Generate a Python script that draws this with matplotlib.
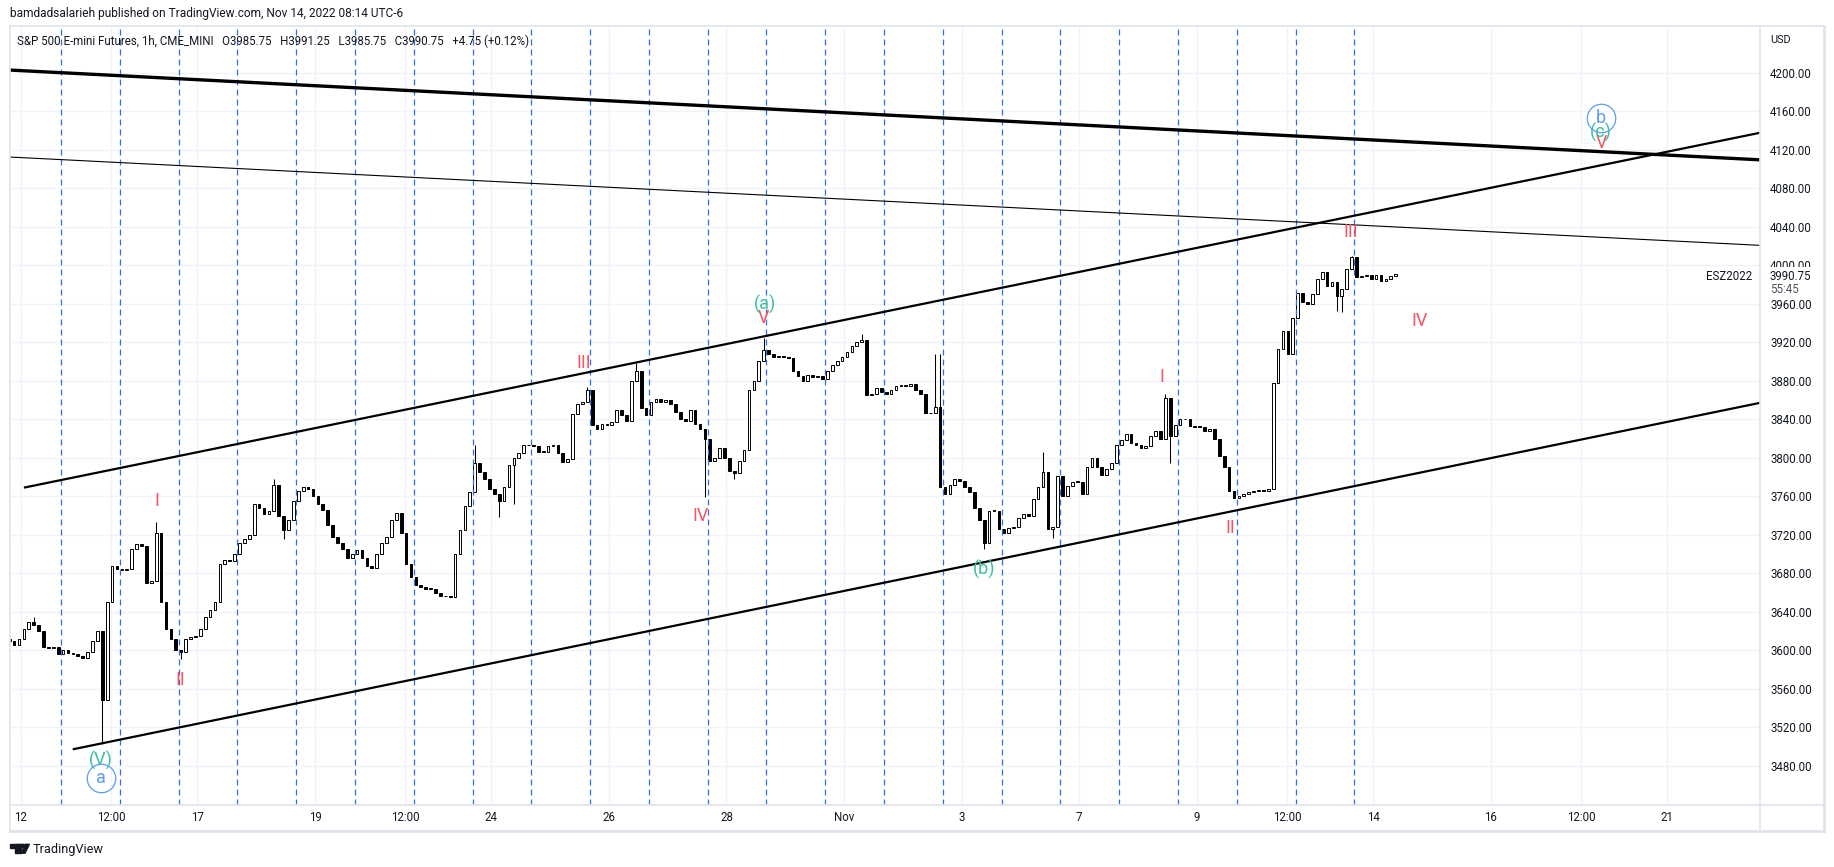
import matplotlib
matplotlib.use("Agg")
import matplotlib.pyplot as plt
from matplotlib.patches import Rectangle, Polygon, Circle
import numpy as np

plt.rcParams['font.family'] = ['Roboto', 'DejaVu Sans']
plt.rcParams['lines.scale_dashes'] = False

# ---------------- data (x in trading-day units, 0 = Oct 12) ----------------
bar_start = -0.2          # position of first 2-hour bar
bar_step = 1 / 12         # one bar = 2 hours
first_open = 3612

closes = [
    3610, 3606, 3612, 3622, 3630, 3626, 3620, 3604, 3602, 3604,
    3596, 3600, 3597, 3596, 3594, 3592, 3598, 3610, 3620, 3548,
    3650, 3688, 3685, 3683, 3685, 3705, 3710, 3708, 3670, 3672,
    3722, 3650, 3622, 3612, 3600, 3598, 3612, 3614, 3615, 3622,
    3635, 3642, 3650, 3690, 3694, 3693, 3700, 3712, 3716, 3720,
    3752, 3748, 3742, 3745, 3772, 3740, 3725, 3735, 3755, 3765,
    3770, 3768, 3760, 3752, 3746, 3730, 3718, 3712, 3705, 3696,
    3700, 3704, 3696, 3688, 3686, 3700, 3712, 3718, 3735, 3743,
    3722, 3690, 3676, 3668, 3666, 3664, 3664, 3660, 3656, 3656,
    3655, 3700, 3725, 3750, 3764, 3795, 3785, 3778, 3768, 3762,
    3755, 3770, 3792, 3800, 3805, 3813, 3813, 3812, 3806, 3806,
    3812, 3813, 3805, 3796, 3799, 3845, 3856, 3858, 3870, 3834,
    3830, 3835, 3834, 3837, 3850, 3844, 3838, 3880, 3890, 3852,
    3844, 3858, 3861, 3858, 3860, 3856, 3848, 3840, 3838, 3850,
    3835, 3830, 3820, 3797, 3800, 3810, 3800, 3786, 3784, 3797,
    3808, 3870, 3880, 3900, 3912, 3908, 3905, 3906, 3905, 3904,
    3890, 3885, 3880, 3886, 3884, 3885, 3882, 3890, 3896, 3900,
    3905, 3910, 3916, 3920, 3922, 3865, 3866, 3872, 3868, 3866,
    3870, 3875, 3876, 3875, 3877, 3870, 3866, 3847, 3846, 3853,
    3770, 3762, 3772, 3778, 3776, 3770, 3764, 3748, 3735, 3712,
    3745, 3745, 3726, 3722, 3727, 3728, 3737, 3742, 3740, 3757,
    3770, 3785, 3726, 3728, 3781, 3760, 3771, 3775, 3775, 3762,
    3790, 3800, 3790, 3782, 3788, 3795, 3813, 3818, 3825, 3815,
    3813, 3810, 3812, 3823, 3828, 3820, 3862, 3823, 3834, 3840,
    3840, 3833, 3832, 3832, 3828, 3830, 3820, 3802, 3790, 3765,
    3758, 3760, 3762, 3764, 3765, 3767, 3766, 3768, 3878, 3913,
    3932, 3908, 3945, 3971, 3962, 3960, 3970, 3986, 3993, 3978,
    3982, 3968, 3975, 3996, 4008, 3988, 3989, 3990, 3986, 3990,
    3984, 3986, 3989, 3990.75,
]

# wick extremes (bar index -> price)
wick_high = {5: 3635, 30: 3733, 54: 3778, 95: 3813, 118: 3873, 128: 3898,
             154: 3924, 174: 3929, 189: 3908, 190: 3908, 211: 3806, 236: 3866,
             274: 4010}
wick_low = {19: 3503, 35: 3591, 56: 3716, 100: 3738, 103: 3752, 142: 3759,
            148: 3778, 199: 3705, 213: 3717, 237: 3795, 271: 3952, 272: 3951}

# daily vertical dashed markers
session_marks = [0.68, 1.68, 2.68, 3.68, 4.68, 5.68, 6.68, 7.68, 8.68, 9.68,
                 10.68, 11.68, 12.68, 13.68, 14.68, 15.68, 16.68, 17.68, 18.68,
                 19.68, 20.68, 21.68, 22.68]

# trend lines: (x0, x1), (y0, y1)
thick_line_x, thick_line_y = [-0.3, 29.6], [4202.9, 4109.3]
thin_line_x, thin_line_y = [-0.3, 29.6], [4112.6, 4020.5]
upper_ch_x, upper_ch_y = [0.05, 29.6], [3769.0, 4137.7]
lower_ch_x, lower_ch_y = [0.88, 29.6], [3497.3, 3857.3]

# Elliott wave labels
red_text = ["I", "II", "III", "IV", "V", "I", "II", "III", "IV", "V"]
red_x = [2.31, 2.71, 9.57, 11.56, 12.63, 19.40, 20.57, 22.62, 23.79, 26.88]
red_y = [3755.5, 3569.8, 3898.8, 3739.8, 3945.0, 3884.3, 3727.6, 4034.8, 3942.5, 4127.1]
green_text = ["(V)", "(a)", "(b)", "(c)"]
green_x = [1.354, 12.65, 16.39, 26.88]
green_y = [3486.0, 3959.6, 3684.0, 4138.0]
circle_text = ["a", "b"]
circle_x = [1.354, 26.88]
circle_y = [3467.8, 4152.7]

xtick_pos = [0, 1.53, 3, 5, 6.53, 8, 10, 12, 14, 16, 18, 20, 21.54, 23, 25, 26.54, 28]
xtick_lab = ["12", "12:00", "17", "19", "12:00", "24", "26", "28", "Nov", "3", "7",
             "9", "12:00", "14", "16", "12:00", "21"]
ytick_pos = list(range(3480, 4201, 40))

last_price = 3990.75
symbol = "ESZ2022"
countdown = "55:45"

# ---------------- figure ----------------
W, H = 1834, 867
fig = plt.figure(figsize=(W / 100, H / 100), dpi=100)
fig.patch.set_facecolor('white')

L, R, T, B = 10, 1760, 26, 805
ax = fig.add_axes([L / W, (H - B) / H, (R - L) / W, (B - T) / H])
ax.set_xlim(-0.1871, 29.58)
ax.set_ylim(3439.5, 4248.3)
for s in ax.spines.values():
    s.set_visible(False)

TXT = '#131722'
GRID = '#f0f3fa'

ax.set_yticks(ytick_pos)
ax.set_yticklabels([f"{v:.2f}" for v in ytick_pos])
ax.yaxis.set_ticks_position('right')
ax.tick_params(axis='y', length=0, pad=7.3, labelsize=8.3, labelcolor=TXT)
ax.set_xticks(xtick_pos)
ax.set_xticklabels(xtick_lab)
ax.tick_params(axis='x', length=0, pad=4.5, labelsize=8.3, labelcolor=TXT)
ax.grid(True, color=GRID, lw=1.0, zorder=0)
ax.set_axisbelow(True)

# dashed session lines
for m in session_marks:
    ax.axvline(m, color='#2f6fe8', lw=0.9, dashes=(4.3, 2.9), zorder=4)

# candles
closes_a = np.array(closes, dtype=float)
n = len(closes_a)
xs = bar_start + np.arange(n) * bar_step
opens = np.r_[first_open, closes_a[:-1]]
highs = np.maximum(opens, closes_a)
lows = np.minimum(opens, closes_a)
for i, v in wick_high.items():
    highs[i] = max(highs[i], v)
for i, v in wick_low.items():
    lows[i] = min(lows[i], v)
up = closes_a >= opens
ax.vlines(xs, lows, highs, color='black', lw=0.75, zorder=3)
bw = bar_step * 0.55
bot = np.minimum(opens, closes_a)
hgt = np.maximum(np.abs(closes_a - opens), 0.6)
ax.bar(xs[up], hgt[up], bottom=bot[up], width=bw, facecolor='white',
       edgecolor='black', lw=0.7, zorder=3.5)
ax.bar(xs[~up], hgt[~up], bottom=bot[~up], width=bw, facecolor='black',
       edgecolor='black', lw=0.7, zorder=3.5)

# trend lines
ax.plot(thick_line_x, thick_line_y, color='black', lw=2.4, zorder=5, solid_capstyle='butt')
ax.plot(thin_line_x, thin_line_y, color='black', lw=0.8, zorder=5)
ax.plot(upper_ch_x, upper_ch_y, color='black', lw=1.6, zorder=5, solid_capstyle='butt')
ax.plot(lower_ch_x, lower_ch_y, color='black', lw=1.6, zorder=5, solid_capstyle='butt')

# wave labels
RED = '#f7525f'
GREEN = '#3bbfa0'
BLUE = '#5b9cf6'
for t, xv, yv in zip(red_text, red_x, red_y):
    ax.text(xv, yv, t, color=RED, fontsize=13, ha='center', va='center', zorder=6)
for t, xv, yv in zip(green_text, green_x, green_y):
    ax.text(xv, yv, t, color=GREEN, fontsize=13, ha='center', va='center', zorder=6)
for t, xv, yv in zip(circle_text, circle_x, circle_y):
    ax.plot([xv], [yv], marker='o', ms=20.5, mfc='none', mec=BLUE, mew=0.9, zorder=6)
    ax.text(xv, yv, t, color=BLUE, fontsize=13, ha='center', va='center', zorder=6)

# ---------------- overlay (frame, header, logo) ----------------
ov = fig.add_axes([0, 0, 1, 1], zorder=10)
ov.set_xlim(0, W)
ov.set_ylim(H, 0)
ov.axis('off')
ov.patch.set_alpha(0)

FR = '#e0e3eb'
ov.plot([L, 1824], [T, T], color=FR, lw=1.2)
ov.plot([L, 1824], [B, B], color=FR, lw=1.2)
ov.plot([L, 1824], [831, 831], color=FR, lw=2.0)
ov.plot([L, L], [T, 831], color=FR, lw=1.2)
ov.plot([R, R], [T, 831], color=FR, lw=1.2)
ov.plot([1824, 1824], [T, 831], color=FR, lw=2.0)

ov.text(10, 14, "bamdadsalarieh published on TradingView.com, Nov 14, 2022 08:14 UTC-6",
        fontsize=8.6, color=TXT, ha='left', va='center')
ov.text(17, 41, "S&P 500 E-mini Futures, 1h, CME_MINI   O3985.75   H3991.25   L3985.75   "
        "C3990.75   +4.75 (+0.12%)", fontsize=8.3, color=TXT, ha='left', va='center')
ov.text(1770, 40, "USD", fontsize=7.8, color=TXT, ha='left', va='center')

# last price box
ty = ax.transData.transform((0, last_price))[1]
ypix = H - ty
ov.add_patch(Rectangle((1761, ypix - 7), 62, 29, facecolor='white', edgecolor='none'))
ov.text(1770, ypix + 2, f"{last_price:.2f}", fontsize=8.3, color=TXT, ha='left', va='center')
ov.text(1770, ypix + 15, countdown, fontsize=8.3, color='#50535e', ha='left', va='center')
ov.text(1752, ypix + 2, symbol, fontsize=8.3, color=TXT, ha='right', va='center')

# TradingView logo
ov.add_patch(Polygon([(10, 844.3), (20.5, 844.3), (20.5, 847.6), (10, 847.6)], color=TXT))
ov.add_patch(Polygon([(15.3, 844.3), (20.5, 844.3), (20.5, 853.2), (15.3, 853.2)], color=TXT))
ov.add_patch(Circle((23.2, 846.0), 1.7, color=TXT))
ov.add_patch(Polygon([(21.2, 853.2), (25.0, 853.2), (29.4, 844.3), (25.6, 844.3)], color=TXT))
ov.text(32.5, 849, "TradingView", fontsize=9.2, color=TXT, ha='left', va='center')

fig.savefig("out.png", dpi=100)
